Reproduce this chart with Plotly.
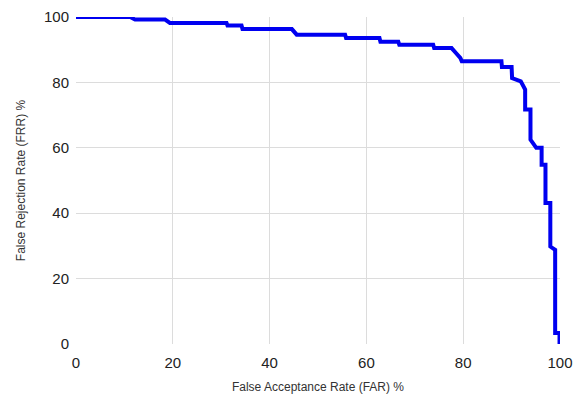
import plotly.graph_objects as go

far = [0, 11.2, 12.2, 18.4, 19.4, 31.1, 31.3, 34.2, 34.4, 44.6, 45.6, 55.6, 55.8, 62.7, 62.9,
       66.6, 66.8, 73.8, 74.0, 77.6, 78.5, 79.4, 79.7, 87.9, 88.0, 90.0, 90.1, 91.9, 92.8, 92.8,
       93.9, 93.9, 95.1, 96.2, 96.2, 97.0, 97.0, 98.0, 98.0, 99.0, 99.0, 99.9, 99.9]
frr = [100, 100, 99.2, 99.2, 98.2, 98.2, 97.4, 97.4, 96.3, 96.3, 94.6, 94.6, 93.6, 93.6, 92.4,
       92.4, 91.5, 91.5, 90.5, 90.5, 89.0, 87.5, 86.5, 86.5, 84.7, 84.7, 81.3, 80.3, 77.8, 71.7,
       71.7, 62.5, 60.0, 60.0, 54.8, 54.8, 43.1, 43.1, 29.8, 28.8, 3.4, 3.4, 0]
ticks = [0, 20, 40, 60, 80, 100]

fig = go.Figure()
fig.add_trace(go.Scatter(x=far, y=frr, mode="lines",
                         line=dict(color="#0000F0", width=4),
                         cliponaxis=False, showlegend=False))

font = "Arial"
fig.update_layout(
    width=582, height=398,
    margin=dict(l=76, r=22, t=17, b=54, autoexpand=False),
    paper_bgcolor="white", plot_bgcolor="white",
    font=dict(family=font, color="#222222"),
    xaxis=dict(range=[0, 100], tickvals=ticks, showgrid=True, gridcolor="#dcdcdc", gridwidth=1,
               zeroline=False, showline=False, ticks="", ticklabelstandoff=8, automargin=False,
               tickfont=dict(family=font, size=15, color="#222222"),
               title=dict(text="False Acceptance Rate (FAR) %", font=dict(family=font, size=12, color="#333333"), standoff=12)),
    yaxis=dict(range=[0, 100], tickvals=ticks, showgrid=True, gridcolor="#dcdcdc", gridwidth=1,
               zeroline=False, showline=False, ticks="", ticklabelstandoff=6, automargin=False,
               tickfont=dict(family=font, size=15, color="#222222"),
               title=dict(text="False Rejection Rate (FRR) %", font=dict(family=font, size=12, color="#333333"), standoff=15)),
)
fig.write_html("out.html", config={"displayModeBar": False},
               post_script="document.body.style.margin='0';")
